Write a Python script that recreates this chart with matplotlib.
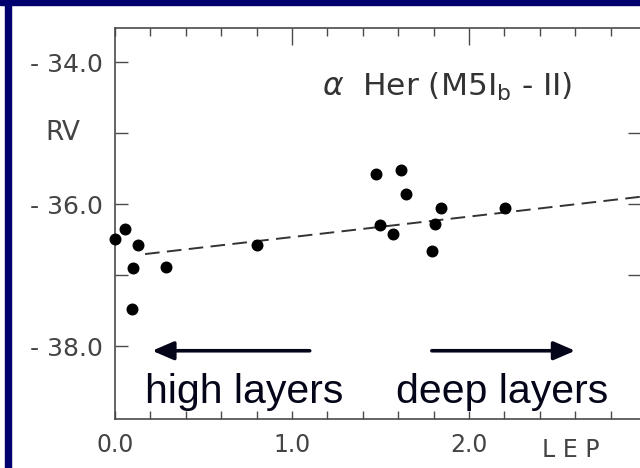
import matplotlib
matplotlib.use("Agg")
import matplotlib.pyplot as plt
from matplotlib.patches import Rectangle, FancyArrowPatch

# ---- data ----
lep = [0.00, 0.056, 0.13, 0.10, 0.286, 0.094, 0.80,
       1.473, 1.616, 1.642, 1.84, 1.497, 1.572, 1.81, 1.79, 2.205]
rv = [-36.49, -36.35, -36.57, -36.89, -36.88, -37.47, -36.57,
      -35.58, -35.52, -35.86, -36.05, -36.29, -36.42, -36.27, -36.65, -36.05]
fit_x = [0.17, 3.0]
fit_y = [-36.70, -35.885]

ytick_vals = [-38, -37, -36, -35, -34]
ytick_labels = ["- 38.0", "", "- 36.0", "", "- 34.0"]
xtick_vals = [round(0.2 * i, 1) for i in range(16)]
xtick_labels = ["0.0" if v == 0 else "1.0" if v == 1 else "2.0" if v == 2 else "" for v in xtick_vals]
title_txt = r"$\alpha$  Her (M5I$_{\mathrm{b}}$ - II)"
ylabel_txt = "RV"
xlabel_txt = "L E P"
left_txt = "high layers"
right_txt = "deep layers"
left_arrow = [(1.10, -38.06), (0.21, -38.06)]
right_arrow = [(1.79, -38.06), (2.60, -38.06)]

W, H = 640, 468
fig = plt.figure(figsize=(6.4, 4.68), dpi=100)
fig.patch.set_facecolor("white")

# navy frame
navy = "#00006e"
fig.patches.append(Rectangle((0, 1 - 5 / H), 1, 5 / H, transform=fig.transFigure, color=navy, zorder=0))
fig.patches.append(Rectangle((5 / W, 0), 6 / W, 1, transform=fig.transFigure, color=navy, zorder=0))

ax = fig.add_axes([115 / W, (H - 419) / H, 531 / W, (419 - 28) / H])
ax.set_xlim(0, 3.0)
ax.set_ylim(-39.02, -33.52)

grey = "#444444"
spc = "#4a4a4a"
for s in ax.spines.values():
    s.set_color(spc)
    s.set_linewidth(1.2)

ax.set_yticks(ytick_vals)
ax.set_yticklabels(ytick_labels, fontsize=18, color=grey, family="DejaVu Sans")
ax.tick_params(axis="y", direction="in", length=9.5, width=1.0, color=spc, pad=8.5, left=True, right=False)

ax.set_xticks(xtick_vals)
ax.set_xticklabels(xtick_labels, fontsize=17, color=grey, family="DejaVu Sans")
ax.tick_params(axis="x", direction="in", length=6, width=1.0, color=spc, pad=10)

# top ticks: every 0.2, longer at integers
top = ax.secondary_xaxis("top")
top.set_xticks([v for v in xtick_vals if v not in (1.0, 2.0)])
top.set_xticklabels([])
top.tick_params(direction="in", length=6, width=1.0, color=spc)
top2 = ax.secondary_xaxis("top")
top2.set_xticks([1.0, 2.0])
top2.set_xticklabels([])
top2.tick_params(direction="in", length=12, width=1.0, color=spc)
for sa in (top, top2):
    sa.spines["top"].set_visible(False)

right = ax.secondary_yaxis("right")
right.set_yticks([-37, -36, -35])
right.set_yticklabels([])
right.tick_params(direction="in", length=13, width=1.0, color=spc)

# data
ax.plot(fit_x, fit_y, color="#333333", lw=1.4, linestyle=(0, (7.5, 3.8)), clip_on=False)
ax.plot(lep, rv, "o", ms=7.6, color="black", clip_on=False, zorder=5)

# texts
ax.text(1.17, -34.47, title_txt, fontsize=22.5, color="#333333", family="DejaVu Sans", va="baseline", ha="left")
ax.annotate(ylabel_txt, xy=(0, -35), xycoords="data", xytext=(-52, 0), textcoords="offset pixels",
            ha="center", va="center", fontsize=19, color=grey, family="DejaVu Sans")
fig.text(571 / W, 1 - 450 / H, xlabel_txt, fontsize=17, color=grey, family="DejaVu Sans", ha="center", va="center")

for (tail, head) in (left_arrow, right_arrow):
    ar = FancyArrowPatch(tail, head, arrowstyle="-|>,head_length=13,head_width=5.6",
                         mutation_scale=1, color="#05051a", lw=2.6, shrinkA=0, shrinkB=0, clip_on=False)
    ax.add_patch(ar)

ax.text(0.17, -38.79, left_txt, fontsize=29.5, color="#05051a", family="Liberation Sans", va="baseline", ha="left")
ax.text(1.59, -38.79, right_txt, fontsize=29.5, color="#05051a", family="Liberation Sans", va="baseline", ha="left")

fig.savefig("out.png", dpi=100)
